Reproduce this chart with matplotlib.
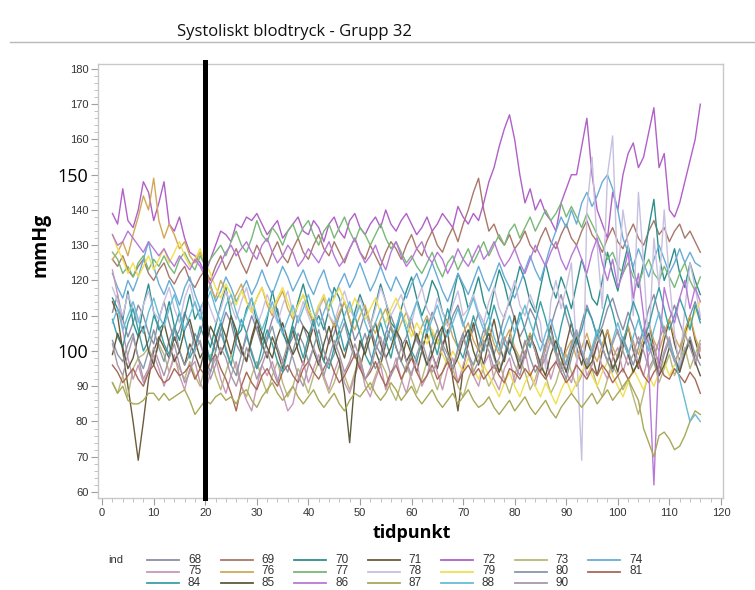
import numpy as np
import matplotlib
matplotlib.use("Agg")
import matplotlib.pyplot as plt
from matplotlib.lines import Line2D
from matplotlib.ticker import MultipleLocator

# ---------------- data ----------------
tid = list(range(2, 117))

ind68 = [111,116,109,104,108,113,110,105,102,109, 114,108,103,106,111,107,101,105,110,104,
         100,106,111,108,102,99,105,110,106,101, 104,109,112,106,101,104,110,107,103,108,
         113,108,102,105,110,114,109,103,106,111, 107,102,99,105,110,106,101,104,109,103,
         100,106,111,107,102,105,110,113,108,103, 106,111,108,102,99,104,110,114,109,104,
         107,112,109,103,101,107,112,116,110,105, 102,108,113,109,104,107,112,115,110,106,
         111,107,102,106,112,116,110,105,109,113, 108,104,110,114,109]
ind69 = [126,124,127,123,121,124,126,122,120,123, 125,121,119,122,124,120,118,121,123,120,
         124,127,123,126,129,125,122,126,130,127, 124,128,131,127,125,129,132,128,126,130,
         133,129,127,131,128,125,129,132,128,126, 130,127,124,128,131,129,126,130,133,129,
         127,131,134,130,128,132,135,131,136,140, 145,149,140,134,136,132,130,133,129,131,
         134,130,128,132,135,131,129,133,136,132, 130,134,137,133,131,128,132,135,131,129,
         133,136,132,130,134,137,133,135,131,134, 136,132,134,131,128]
ind70 = [115,112,109,117,108,104,113,119,111,106, 108,114,107,103,110,116,109,112,105,101,
         107,113,118,110,104,106,112,115,108,103, 109,117,111,105,102,108,114,119,113,107,
         110,106,112,118,115,109,104,111,116,112, 107,113,119,114,108,106,112,117,121,115,
         110,114,120,117,111,108,115,122,118,112, 116,121,114,110,117,123,119,113,118,124,
         120,114,111,118,125,119,115,121,117,112, 119,126,121,115,113,120,128,122,117,124,
         130,123,118,125,135,143,127,120,124,129, 122,118,125,120,116]
ind71 = [114,110,100,90,80,69,80,92,100,104, 101,98,104,100,96,102,99,95,101,97,
         103,108,104,99,105,101,97,103,108,102, 98,104,100,95,101,106,100,96,102,107,
         101,97,103,108,102,98,104,99,95,101, 106,100,96,102,107,101,97,103,99,94,
         100,105,99,95,101,106,92,83,95,102, 108,101,96,103,109,102,97,104,110,103,
         98,105,100,94,101,107,100,95,102,108, 101,96,103,99,93,100,106,99,94,101,
         107,100,95,102,108,101,96,103,109,102, 97,104,110,103,98]
ind72 = [139,136,146,137,135,140,148,145,137,142, 148,136,134,138,132,128,127,125,122,126,
         130,134,133,131,136,135,138,137,139,136, 133,135,137,132,134,136,138,134,133,137,
         135,131,136,138,134,132,137,139,135,133, 136,138,135,140,136,134,137,139,136,133,
         135,138,134,136,139,137,135,141,138,136, 139,137,142,148,152,158,163,167,160,150,
         142,146,140,143,139,137,134,142,146,150, 150,158,166,150,140,136,132,145,140,150,
         156,159,152,155,162,169,152,156,140,138, 142,148,154,160,170]
ind73 = [91,88,93,87,95,98,99,101,97,102, 99,94,98,95,92,97,93,90,96,99,
         93,89,94,99,95,90,87,93,97,92, 88,93,97,91,87,90,95,92,88,93,
         97,92,88,91,96,93,89,94,98,92, 89,93,97,94,89,86,91,96,92,88,
         92,97,93,89,94,98,95,90,87,92, 96,99,94,90,93,97,92,88,93,98,
         94,89,92,97,93,88,91,96,99,94, 90,93,98,95,90,87,92,96,93,89,
         92,87,82,88,94,97,91,95,99,93, 97,101,95,99,103]
ind74 = [122,118,115,120,117,121,126,131,124,119, 116,120,117,113,118,121,116,112,115,119,
         114,117,121,118,114,117,120,116,119,123, 119,116,120,124,121,117,120,123,119,116,
         120,123,118,115,119,122,118,121,125,121, 117,120,124,120,117,121,118,115,119,122,
         118,121,125,121,117,114,118,122,119,116, 120,124,120,117,121,125,121,118,115,119,
         123,127,123,120,125,130,134,138,135,140, 136,142,145,141,144,148,150,146,140,132,
         128,124,129,125,121,126,130,126,122,125, 129,125,128,125,124]
ind75 = [123,116,106,98,92,96,91,94,99,95, 90,94,99,93,89,95,97,91,88,94,
         98,92,88,93,97,90,86,83,90,96, 93,97,92,88,83,85,92,97,91,95,
         99,93,89,94,98,91,88,93,97,90, 87,92,96,89,93,98,92,88,94,97,
         90,93,99,94,89,95,98,91,96,100, 93,90,96,99,92,89,95,98,91,96,
         100,93,90,96,99,92,97,101,94,91, 97,100,93,96,102,95,92,98,101,94,
         99,103,96,93,99,102,95,100,104,97, 94,100,103,96,101]
ind76 = [126,128,131,127,133,138,144,140,149,137, 132,136,133,129,131,127,125,128,124,118,
         115,120,117,113,116,119,114,111,115,118, 113,110,114,117,112,109,113,116,111,108,
         112,115,110,107,111,114,109,106,110,113, 108,105,109,112,107,104,108,111,106,103,
         107,110,105,102,106,109,104,101,105,108, 103,100,104,107,102,99,103,106,101,98,
         102,105,100,97,101,104,99,96,100,103, 98,101,105,100,97,102,106,101,98,103,
         107,102,99,104,108,103,100,105,109,104, 101,106,110,104,100]
ind77 = [128,126,122,124,121,125,127,123,126,124, 127,124,122,126,128,125,123,127,124,126,
         128,130,127,131,134,130,128,132,137,133, 131,135,133,130,134,136,132,135,137,133,
         130,134,136,132,135,138,134,131,135,133, 130,133,136,132,129,131,128,125,127,124,
         122,125,128,124,121,125,127,123,126,129, 125,128,131,127,130,133,130,134,136,132,
         135,138,134,137,140,137,139,142,138,141, 138,135,139,136,133,130,126,128,124,122,
         125,121,119,123,126,122,120,124,121,118, 122,125,120,117,121]
ind78 = [118,114,110,116,112,108,113,117,111,109, 114,118,112,108,115,119,113,110,116,112,
         108,112,117,113,109,114,118,112,107,111, 116,112,108,113,117,111,109,114,110,106,
         112,116,110,108,113,117,112,109,115,111, 107,112,118,114,110,113,116,111,108,114,
         118,112,109,115,111,107,113,117,110,112, 116,111,108,114,118,112,109,115,120,113,
         110,116,112,108,95,114,120,112,118,125, 100,69,140,155,130,112,150,161,120,140,
         130,110,145,125,100,132,118,140,120,105, 95,112,125,118,110]
ind79 = [133,129,126,122,125,121,124,127,123,126, 129,125,128,131,127,124,126,129,125,122,
         118,115,119,116,113,117,114,111,115,118, 114,111,115,118,114,110,113,116,112,109,
         113,116,112,115,118,114,111,115,112,109, 112,115,111,108,112,115,111,108,104,108,
         105,102,106,103,99,96,100,97,94,98, 95,92,96,93,90,87,91,94,90,87,
         91,94,90,87,91,88,85,89,92,88, 91,94,97,93,90,94,97,93,90,87,
         91,95,92,89,93,90,94,97,93,96, 100,104,108,111,114]
ind80 = [103,99,97,102,105,98,95,100,106,101, 97,103,107,100,96,99,105,102,98,94,
         100,105,101,96,93,99,104,100,95,98, 103,107,101,97,94,100,105,102,97,101,
         106,100,96,99,104,108,102,98,101,105, 99,95,98,103,107,101,97,94,100,104,
         100,96,102,106,101,97,95,101,105,99, 96,101,106,103,98,94,99,104,100,97,
         103,98,94,97,102,106,100,96,92,98, 103,99,95,100,105,101,97,94,99,104,
         100,96,101,106,102,97,93,99,103,98, 95,100,104,99,96]
ind81 = [96,94,91,93,95,92,90,94,96,93, 91,92,95,93,94,96,92,95,93,97,
         99,95,92,88,83,90,94,91,89,93, 95,92,90,94,96,93,91,95,97,94,
         92,95,98,94,91,93,96,99,95,92, 94,97,93,90,94,96,92,95,98,94,
         91,93,96,92,94,97,93,91,94,96, 93,95,92,94,96,93,91,95,94,92,
         95,93,96,94,92,95,97,94,91,93, 96,94,92,95,93,96,94,91,93,95,
         92,94,97,93,91,94,96,93,92,95, 93,91,94,92,88]
ind84 = [109,104,101,108,112,106,100,103,110,107, 102,99,106,111,104,98,101,107,103,97,
         104,108,100,96,103,109,105,99,95,101, 106,102,97,94,100,107,103,98,104,109,
         103,97,95,101,106,100,104,110,105,99, 96,102,108,103,98,105,111,106,100,97,
         103,109,104,99,106,112,107,101,98,104, 110,105,100,107,113,108,102,99,105,111,
         106,101,108,114,109,103,100,107,113,108, 102,106,112,109,104,110,116,111,105,102,
         108,114,110,104,107,113,118,112,106,110, 115,111,106,113,108]
ind85 = [99,105,101,95,98,104,107,100,96,103, 108,102,97,100,106,109,103,98,101,107,
         104,99,103,110,106,100,97,104,109,105, 101,98,104,108,103,99,102,107,105,100,
         96,102,107,101,97,88,74,92,103,99, 104,108,102,98,101,106,103,97,100,105,
         101,96,99,104,107,100,95,98,103,106, 100,96,102,105,99,94,98,103,100,95,
         99,104,101,96,93,99,103,98,94,100, 104,99,95,97,102,106,100,95,98,103,
         99,94,97,102,105,99,93,96,101,98, 94,99,103,97,93]
ind86 = [133,130,131,134,132,130,128,131,129,127, 129,126,124,127,125,123,126,124,121,119,
         122,125,128,130,127,129,131,128,126,130, 132,128,125,127,130,128,124,126,129,127,
         125,128,131,127,124,126,129,132,128,125, 127,130,126,123,128,131,127,124,126,129,
         131,127,125,128,126,122,125,129,126,124, 127,130,126,128,131,127,124,126,129,125,
         122,126,130,127,124,128,131,126,123,127, 130,126,122,128,132,125,120,126,118,122,
         128,115,122,110,95,62,100,118,112,108, 115,120,112,118,114]
ind87 = [91,88,90,86,85,85,86,88,88,86, 88,86,87,88,89,86,82,84,86,85,
         87,88,86,87,85,88,89,86,84,87, 89,91,88,86,88,90,87,85,87,89,
         86,84,86,88,85,83,86,88,87,89, 91,88,86,88,91,89,86,88,90,87,
         85,87,89,86,84,86,88,85,87,89, 86,84,85,87,84,82,84,86,83,85,
         87,84,82,84,86,83,81,84,86,88, 86,84,86,88,85,87,89,86,88,90,
         92,89,86,78,74,70,76,77,75,72, 73,76,80,83,82]
ind88 = [108,112,106,110,114,109,105,111,115,110, 107,112,116,111,106,110,114,109,113,117,
         112,108,113,116,111,107,111,115,110,106, 110,114,109,105,109,113,108,112,116,111,
         107,111,115,110,106,110,114,109,113,108, 104,108,112,107,103,107,111,106,110,114,
         109,105,109,113,108,104,108,112,107,111, 115,110,106,110,104,100,106,110,105,109,
         113,108,104,100,105,109,104,100,96,101, 105,100,96,101,106,101,97,103,108,103,
         99,104,109,104,100,106,111,106,102,98, 92,86,80,82,80]
ind90 = [102,96,93,99,104,98,92,95,101,97, 93,98,102,96,91,94,100,103,97,92,
         96,101,98,93,90,95,101,97,92,96, 100,95,91,97,102,98,93,90,96,101,
         97,93,98,103,99,94,97,102,98,92, 95,100,104,98,93,96,101,97,93,99,
         103,98,94,97,102,99,95,100,104,99, 94,97,103,100,95,98,104,100,96,93,
         99,104,100,95,98,103,99,94,97,102, 106,100,96,99,104,101,97,102,106,100,
         96,99,104,100,95,98,103,107,101,97, 100,105,101,97,102]

ind_ids = [68, 69, 70, 71, 72, 73, 74, 75, 76, 77, 78, 79, 80, 81, 84, 85, 86, 87, 88, 90]
series = [ind68, ind69, ind70, ind71, ind72, ind73, ind74, ind75, ind76, ind77,
          ind78, ind79, ind80, ind81, ind84, ind85, ind86, ind87, ind88, ind90]
colors = ['#8c8ca8', '#a8786a', '#2f8f8a', '#6e5a3c', '#b060c8', '#b8b878', '#68acd8',
          '#c898b8', '#d0a858', '#78b878', '#c8c0e0', '#f0e050', '#8898a8', '#a86858',
          '#3aa0a8', '#5e5a3c', '#b878d8', '#a8a858', '#68bcd8', '#a898a8']

xticks = [0, 10, 20, 30, 40, 50, 60, 70, 80, 90, 100, 110, 120]
yticks = [60, 70, 80, 90, 100, 110, 120, 130, 140, 150, 160, 170, 180]
big_yticks = [100, 150]
cut_tid = 20

# ---------------- figure ----------------
W, H = 755, 590
fig = plt.figure(figsize=(W / 100, H / 100), dpi=100)
fig.patch.set_facecolor('white')

def fx(px):
    return px / W

def fy(py):
    return 1 - py / H

TICKFONT = ['Liberation Sans', 'DejaVu Sans']
CALFONT = ['Open Sans', 'DejaVu Sans']

ax = fig.add_axes([fx(98), fy(498), fx(723) - fx(98), fy(64) - fy(498)])

for vals, col in zip(series, colors):
    ax.plot(tid[:len(vals)], vals, color=col, lw=1.0)

ax.axvline(cut_tid, ymin=0, ymax=1.005, color='black', lw=3.6, clip_on=False, zorder=5)

ax.set_xlim(-0.8, 120.4)
ax.set_ylim(58.3, 181.4)
ax.set_xticks(xticks)
ax.set_yticks(yticks)
ax.xaxis.set_minor_locator(MultipleLocator(2))
ax.yaxis.set_minor_locator(MultipleLocator(2))

for sp in ax.spines.values():
    sp.set_color('#c8c8c8')
    sp.set_linewidth(1.0)

ax.tick_params(axis='both', which='major', length=5, color='#a0a0a0',
               labelsize=8, labelcolor='#333333', pad=2)
ax.tick_params(axis='both', which='minor', length=3, color='#b8b8b8')

ax.set_xticklabels([str(v) for v in xticks], family=TICKFONT)
ax.set_yticklabels([str(v) for v in yticks], family=TICKFONT)
for lab, v in zip(ax.get_yticklabels(), yticks):
    if v in big_yticks:
        lab.set_fontsize(13)
        lab.set_color('black')
        lab.set_family(CALFONT)

# axis labels
fig.text(fx(40), fy(245), 'mmHg', rotation=90, ha='center', va='center',
         fontsize=14, fontweight='bold', family=CALFONT)
fig.text(fx(412), fy(533), 'tidpunkt', ha='center', va='center',
         fontsize=13, fontweight='bold', family=CALFONT)

# title & header line
fig.text(fx(294), fy(32), 'Systoliskt blodtryck - Grupp 32', ha='center', va='center',
         fontsize=12, family=CALFONT, color='#111111')
fig.add_artist(Line2D([fx(10), fx(755)], [fy(42), fy(42)], color='#b8b8b8', lw=1.0))

# legend
fig.text(fx(108), fy(560), 'ind', ha='left', va='center', fontsize=8, color='#333333',
         family=TICKFONT)
col_x0, col_dx = 147, 73.5
row_y = [560, 571.5, 583]
for i, (iid, col) in enumerate(zip(ind_ids, colors)):
    r, c = divmod(i, 7)
    x0 = col_x0 + c * col_dx
    y = row_y[r]
    fig.add_artist(Line2D([fx(x0), fx(x0 + 32)], [fy(y), fy(y)], color=col, lw=1.3))
    fig.text(fx(x0 + 41), fy(y), str(iid), ha='left', va='center', fontsize=8.5,
             color='#333333', family=TICKFONT)

fig.savefig('out.png', dpi=100, facecolor='white')
